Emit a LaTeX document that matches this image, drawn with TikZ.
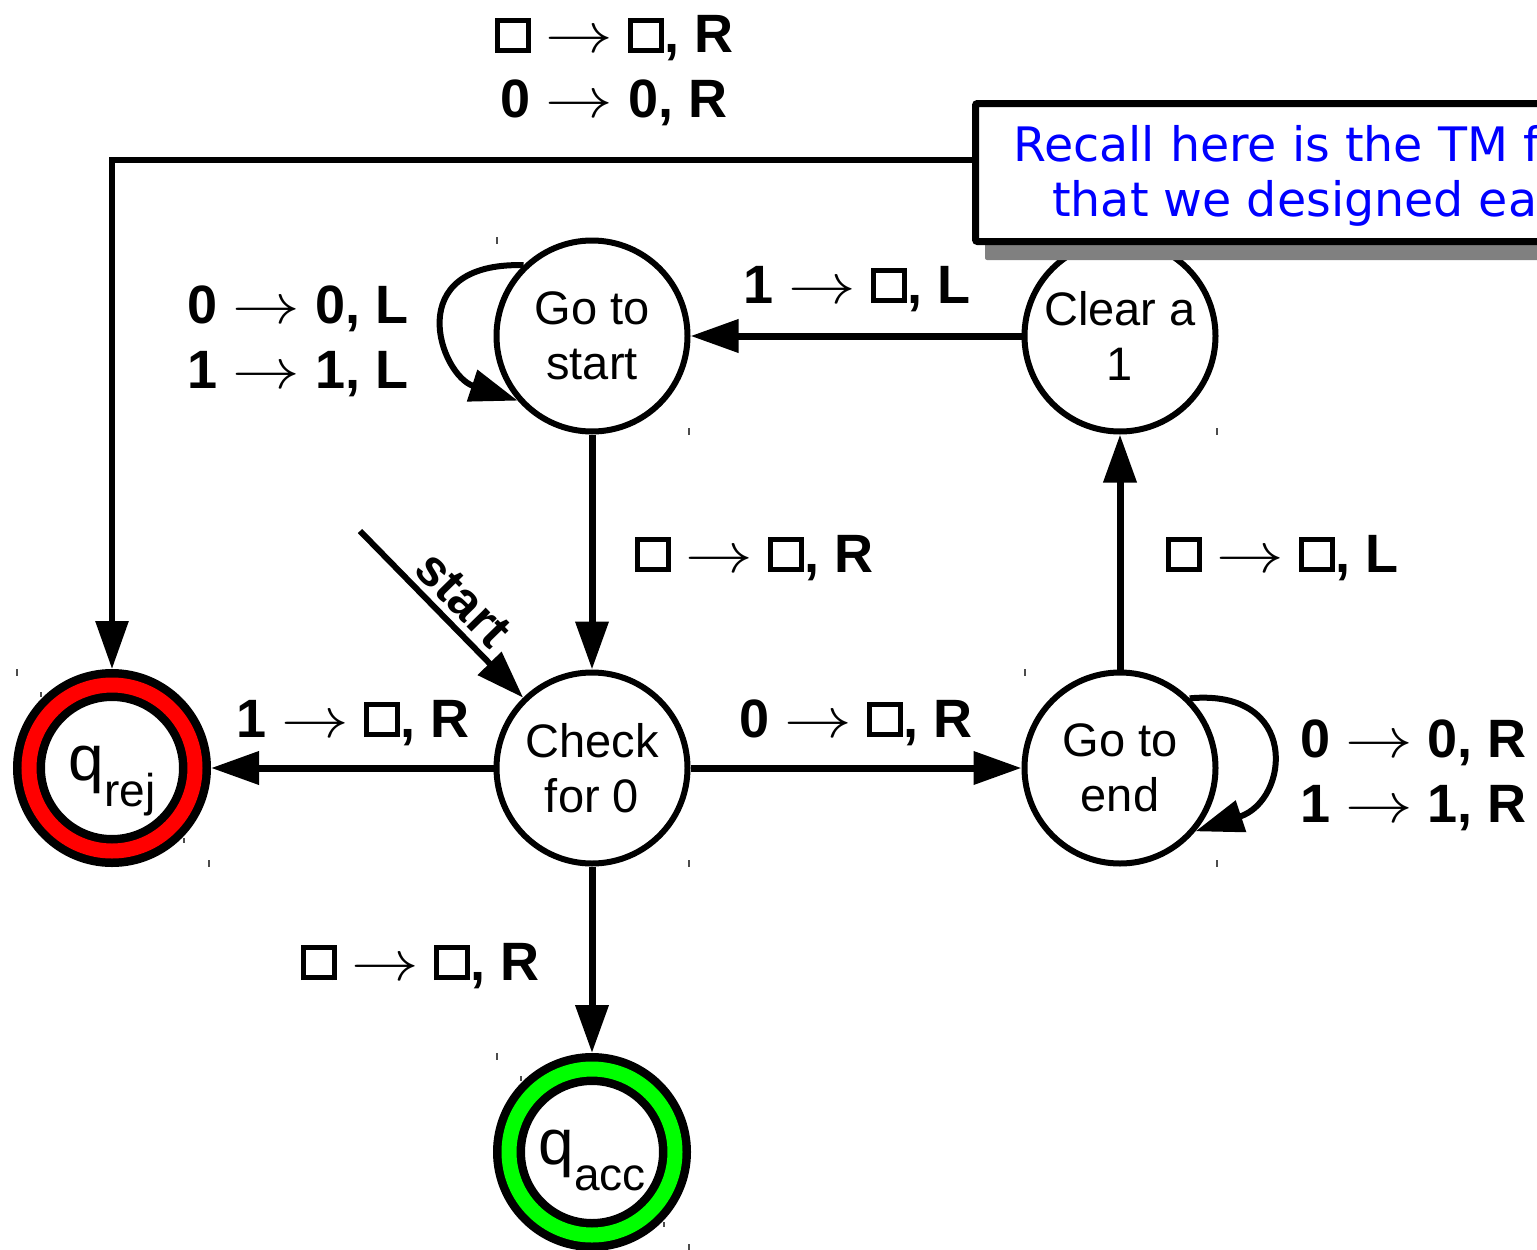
\RequirePackage{fix-cm}
\documentclass[tikz,border=0pt]{standalone}
\usepackage{fontspec}
\setmainfont{Liberation Sans}
\newfontfamily\notefont{DejaVu Sans}
\usetikzlibrary{arrows.meta}

\definecolor{accgreen}{RGB}{0,255,0}
\definecolor{rejred}{RGB}{255,0,0}

% tape blank symbol and transition arrow
\newcommand{\blanksym}{\hbox{\vrule width 5pt\vbox to 35pt{\hrule height 5pt width 26pt\vfil\hrule height 5pt width 26pt}\vrule width 5pt}}
\newcommand{\tto}{\scalebox{1.25}[1.05]{$\rightarrow$}}

\tikzset{
  state/.style={circle, draw, line width=6pt, minimum size=191pt, inner sep=0pt,
    fill=white, align=center, font=\fontsize{47}{55}\selectfont},
  haltstate/.style={circle, draw=black, double=#1, double distance=15pt,
    line width=8.5pt, minimum size=166pt, inner sep=0pt, outer sep=16pt,
    fill=white, text height=64pt, text depth=40pt},
  edge/.style={line width=7pt, -{Triangle[length=48pt,width=32pt]}},
  lbl/.style={font=\fontsize{54}{65}\selectfont\bfseries, inner sep=0pt, align=center},
  handle/.style={line width=1.5pt, black!70},
}

\newcommand{\qname}[1]{{\fontsize{64}{64}\selectfont q}\raisebox{-26pt}{\fontsize{46}{46}\selectfont #1}}

\begin{document}
\begin{tikzpicture}[x=1pt, y=-1pt]
  \useasboundingbox (0,0) rectangle (1537,1250);

  % states
  \node[state] (gts)   at (592,336)  {Go to\\start};
  \node[state] (clear) at (1120,336) {Clear a\\1};
  \node[state] (check) at (592,768)  {Check\\for 0};
  \node[state] (gte)   at (1120,768) {Go to\\end};
  \node[haltstate=rejred] (rej) at (112,768) {\qname{rej}};
  \node[haltstate=accgreen] (acc) at (592,1152) {\qname{acc}};

  % selection handles at the corners of the state boxes
  \foreach \cx/\cy in {592/336,1120/336,592/768,1120/768,112/768,592/1152}{
    \draw[handle] (\cx-95,\cy-99) -- ++(0,7);
    \draw[handle] (\cx+97,\cy+92) -- ++(0,7);
  }
  \foreach \cx/\cy in {112/768,592/1152}{
    \draw[handle] (\cx-71,\cy-76) -- ++(0,5);
    \draw[handle] (\cx+72,\cy+70) -- ++(0,5);
  }

  % transitions
  \draw[edge] (clear) -- (gts);
  \draw[edge] (gts) -- (check);
  \draw[edge] (gte) -- (clear);
  \draw[edge] (check) -- (gte);
  \draw[edge] (check) -- (rej);
  \draw[edge] (check) -- (acc);
  \draw[edge, line width=6pt] (gts.134) .. controls (400,262) and (440,375) .. (gts.221);
  \draw[edge, line width=6pt] (gte.45) .. controls (1300,688) and (1290,800) .. (gte.-40);
  \coordinate (rejbend) at (112,160);
  \draw[edge, line width=6pt] (clear) |- (rejbend) -- (rej);

  % start arrow
  \coordinate (startpt) at (360,531);
  \draw[edge, line width=6pt] (startpt) -- (check)
    node[pos=0.52, sloped, above=6pt, inner sep=0pt, font=\fontsize{51}{51}\selectfont\bfseries] (startlbl) {start};

  % transition labels
  \node[lbl] (ltop) at (614,71) {\blanksym{} \tto{} \blanksym, R\\0 \tto{} 0, R};
  \node[lbl] (lgts) at (298,341) {0 \tto{} 0, L\\1 \tto{} 1, L};
  \node[lbl, anchor=base] (lclear) at (857,303) {1 \tto{} \blanksym, L};
  \node[lbl, anchor=base] (lmid) at (754,572) {\blanksym{} \tto{} \blanksym, R};
  \node[lbl, anchor=base] (lup) at (1282,572) {\blanksym{} \tto{} \blanksym, L};
  \node[lbl, anchor=base] (lrej) at (353,737) {1 \tto{} \blanksym, R};
  \node[lbl, anchor=base] (lgte) at (856,737) {0 \tto{} \blanksym, R};
  \node[lbl, anchor=base] (lacc) at (420,980) {\blanksym{} \tto{} \blanksym, R};
  \node[lbl, anchor=west] (lloop) at (1300,775) {0 \tto{} 0, R\\1 \tto{} 1, R};

  % callout note
  \fill[black!50, rounded corners=2pt] (985,118) rectangle (1600,260);
  \draw[line width=7pt, fill=white, rounded corners=2pt] (975.5,103.5) rectangle (1600,241.5);
  \node[anchor=base west, inner sep=0pt, text=blue, font=\notefont\fontsize{47.5}{54}\selectfont] (note1) at (1013,161) {Recall here is the TM f};
  \node[anchor=base west, inner sep=0pt, text=blue, font=\notefont\fontsize{47.5}{54}\selectfont] (note2) at (1052,216) {that we designed ea};
\end{tikzpicture}
\end{document}
